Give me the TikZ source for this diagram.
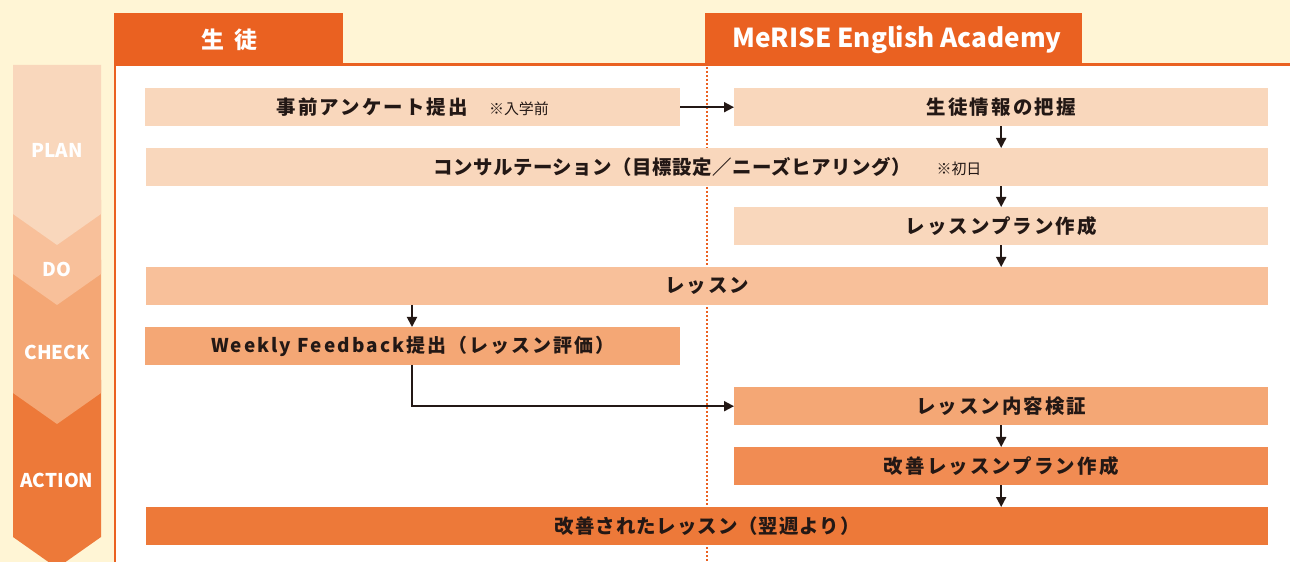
\documentclass[tikz,border=0pt]{standalone}
\usepackage{fontspec}
\setmainfont{Noto Sans CJK JP}
\newfontfamily\bxfont{Noto Sans CJK JP}[LetterSpace=11]
\newfontfamily\bxfontB{Noto Sans CJK JP}[LetterSpace=3]
\newfontfamily\bxfontC{Noto Sans CJK JP}[LetterSpace=5]
\newfontfamily\smfont{Noto Sans CJK JP}
\usetikzlibrary{arrows.meta}
\definecolor{cream}{HTML}{FFF5D5}
\definecolor{hdr}{HTML}{EA6121}
\definecolor{cplan}{HTML}{F9D7BC}
\definecolor{cdo}{HTML}{F8C09A}
\definecolor{ccheck}{HTML}{F4A775}
\definecolor{cimp}{HTML}{F18C53}
\definecolor{caction}{HTML}{ED7939}
\definecolor{ink}{HTML}{231815}
\newcommand{\notetxt}[1]{{\smfont\mdseries\fontsize{15}{17}\selectfont #1}}
\tikzset{
  px/.style={x=1bp,y=-1bp},
  rowbox/.style={anchor=north west,inner sep=0pt,minimum height=38bp,text=ink,font=\bxfont\bfseries\fontsize{19.5}{22}\selectfont,align=center},
  flow/.style={draw=ink,line width=1.8bp,-{Triangle[length=10bp,width=10bp]}},
  phase/.style={text=white,font=\bfseries\fontsize{19}{21}\selectfont},
  tab/.style={fill=hdr,text=white,inner sep=0pt,anchor=north west,minimum height=52bp},
}
\begin{document}
\begin{tikzpicture}[px]
\useasboundingbox (0,0) rectangle (1290,562);
\fill[cream] (0,0) rectangle (1290,562);
% PDCA chevrons (bottom first)
\fill[caction] (13,380) -- (101,380) -- (101,537) -- (57,568) -- (13,537) -- cycle;
\fill[ccheck] (13,260) -- (101,260) -- (101,393) -- (57,424) -- (13,393) -- cycle;
\fill[cdo] (13,200) -- (101,200) -- (101,274) -- (57,305) -- (13,274) -- cycle;
\fill[cplan] (13,65) -- (101,65) -- (101,214) -- (57,245) -- (13,214) -- cycle;
\node[phase] (plan) at (57,150) {PLAN};
\node[phase] (do) at (57,269) {DO};
\node[phase] (check) at (57,352) {CHECK};
\node[phase] (action) at (57,480) {ACTION};
% panel
\fill[white] (115,64) rectangle (1290,562);
\node[tab,minimum width=229bp] (tabA) at (114,13) {};
\node[text=white,font=\bfseries\fontsize{23}{25}\selectfont] (tabAt) at (229.5,40) {生\hspace{0.45em}徒};
\node[tab,minimum width=377bp] (tabB) at (705,13) {};
\node[text=white,font=\bfseries\fontsize{26.2}{28}\selectfont] (tabBt) at (897,40) {MeRISE English Academy};
\draw[hdr,line width=2.5bp] (115,562) -- (115,64.5) -- (1290,64.5);
\draw[hdr,line width=2.2bp,dash pattern=on 2bp off 2bp] (707,67) -- (707,562);
% rows
\node[rowbox,fill=cplan,minimum width=535bp] (r1a) at (145,88) {事前アンケート提出\hspace{1.1em}\notetxt{※入学前}};
\node[rowbox,fill=cplan,minimum width=534bp] (r1b) at (734,88) {生徒情報の把握};
\node[rowbox,fill=cplan,minimum width=1122bp,font=\bxfontB\bfseries\fontsize{19.5}{22}\selectfont] (r2) at (146,148) {コンサルテーション（目標設定／ニーズヒアリング）\hspace{1.3em}\notetxt{※初日}};
\node[rowbox,fill=cplan,minimum width=534bp] (r3) at (734,207) {レッスンプラン作成};
\node[rowbox,fill=cdo,minimum width=1122bp] (r4) at (146,267) {レッスン};
\node[rowbox,fill=ccheck,minimum width=535bp,font=\bxfont\bfseries\fontsize{19}{22}\selectfont] (r5) at (145,327) {Weekly Feedback提出（レッスン評価）};
\node[rowbox,fill=ccheck,minimum width=534bp] (r6) at (734,387) {レッスン内容検証};
\node[rowbox,fill=cimp,minimum width=534bp] (r7) at (734,447) {改善レッスンプラン作成};
\node[rowbox,fill=caction,minimum width=1122bp,font=\bxfontC\bfseries\fontsize{19.5}{22}\selectfont] (r8) at (146,507) {改善されたレッスン（翌週より）};
% connectors
\draw[flow] (r1a.east) -- (r1b.west);
\draw[flow] (r1b.south) -- (r1b.south |- r2.north);
\draw[flow] (r1b.south |- r2.south) -- (r3.north);
\draw[flow] (r3.south) -- (r3.south |- r4.north);
\coordinate (c5) at (412,305);
\draw[flow] (c5) -- (c5 |- r5.north);
\coordinate (c5b) at (412,365);
\draw[flow] (c5b) |- (r6.west);
\draw[flow] (r6.south) -- (r7.north);
\draw[flow] (r7.south) -- (r7.south |- r8.north);
\end{tikzpicture}
\end{document}
